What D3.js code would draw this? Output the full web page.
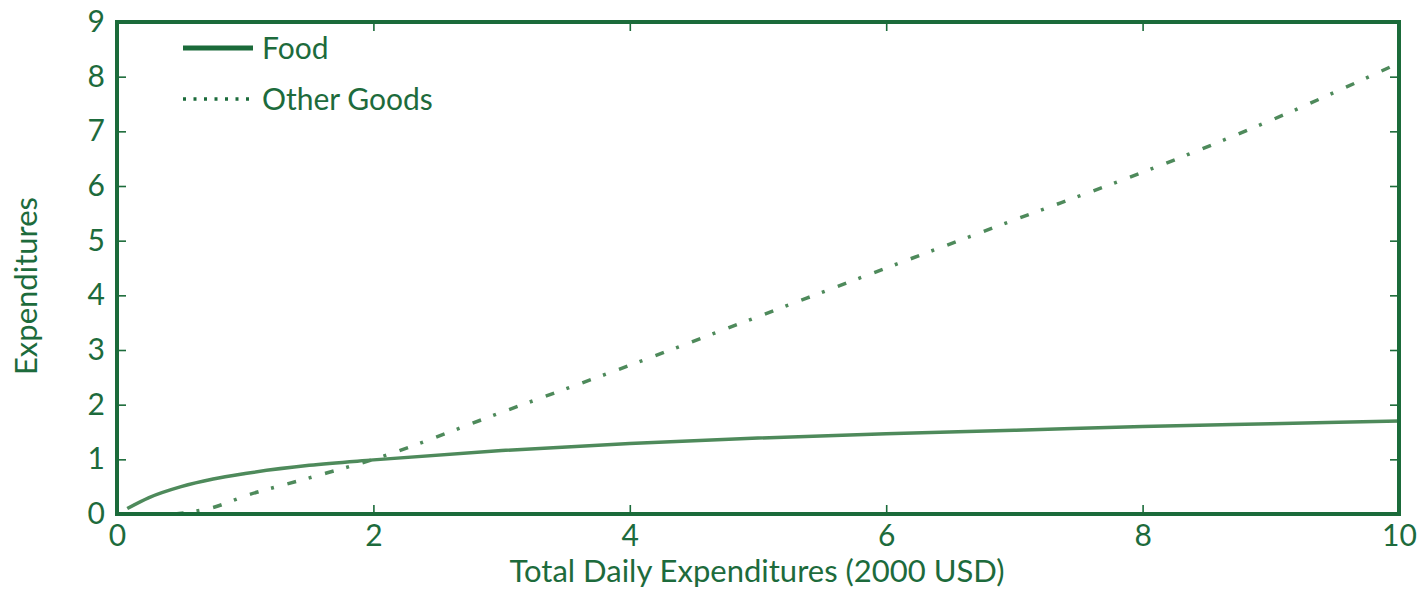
<!DOCTYPE html>
<html>
<head>
<meta charset="utf-8">
<script src="https://cdn.jsdelivr.net/npm/d3@7"></script>
<style>
  body { margin: 0; background: #fff; }
  text { font-family: Lato, "Open Sans", sans-serif; fill: #1d6b3c; }
</style>
</head>
<body>
<div id="chart"></div>
<script>
// data
var foodX = [0.08, 0.25, 0.5, 0.75, 1, 1.5, 2, 3, 4, 5, 6, 7, 8, 9, 10];
var foodY = [0.1, 0.3, 0.5, 0.64, 0.74, 0.89, 0.99, 1.16, 1.29, 1.39, 1.47, 1.53, 1.6, 1.65, 1.7];
var otherX = [0.45, 0.75, 1, 1.5, 2, 3, 4, 5, 6, 7, 8, 9, 10];
var otherY = [0, 0.12, 0.33, 0.66, 1.0, 1.86, 2.72, 3.61, 4.5, 5.38, 6.25, 7.2, 8.25];
var xTicks = [0, 2, 4, 6, 8, 10];
var yTicks = [0, 1, 2, 3, 4, 5, 6, 7, 8, 9];
var legendNames = ["Food", "Other Goods"];

var W = 1422, H = 590;
var margin = {top: 22, right: 23, bottom: 76, left: 117},
    width = W - margin.left - margin.right,
    height = H - margin.top - margin.bottom;

var dark = "#1b6b3a", lineCol = "#4e8a5b";
var fs = "30px";

var svg = d3.select("#chart")
  .append("svg")
    .attr("width", W)
    .attr("height", H)
  .append("g")
    .attr("transform", "translate(" + margin.left + "," + margin.top + ")");

var x = d3.scaleLinear().domain([0, 10]).range([0, width]);
var y = d3.scaleLinear().domain([0, 9]).range([height, 0]);

// axes, ticks pointing inward on all four sides
function styleAxis(g) {
  g.select(".domain").remove();
  g.selectAll(".tick line").attr("stroke", dark).attr("stroke-width", 1.6);
  g.selectAll(".tick text").style("font-size", fs).attr("fill", dark);
}
svg.append("g")
  .attr("transform", "translate(0," + height + ")")
  .call(d3.axisBottom(x).tickValues(xTicks).tickSize(-9).tickPadding(11).tickFormat(d3.format("d")))
  .call(styleAxis);
svg.append("g")
  .call(d3.axisLeft(y).tickValues(yTicks).tickSize(-9).tickPadding(12).tickFormat(d3.format("d")))
  .call(styleAxis);
svg.append("g")
  .call(d3.axisTop(x).tickValues(xTicks).tickSize(-9).tickFormat(""))
  .call(styleAxis);
svg.append("g")
  .attr("transform", "translate(" + width + ",0)")
  .call(d3.axisRight(y).tickValues(yTicks).tickSize(-9).tickFormat(""))
  .call(styleAxis);

// lines
var line = d3.line()
  .x(function(d) { return x(d[0]); })
  .y(function(d) { return y(d[1]); })
  .curve(d3.curveMonotoneX);

svg.append("path")
  .datum(otherX.map(function(v, i) { return [v, otherY[i]]; }))
  .attr("d", line)
  .attr("fill", "none")
  .attr("stroke", lineCol)
  .attr("stroke-width", 3.5)
  .attr("stroke-dasharray", "9,13,3,14");

svg.append("path")
  .datum(foodX.map(function(v, i) { return [v, foodY[i]]; }))
  .attr("d", line)
  .attr("fill", "none")
  .attr("stroke", lineCol)
  .attr("stroke-width", 3.5);

// frame
svg.append("rect")
  .attr("width", width)
  .attr("height", height)
  .attr("fill", "none")
  .attr("stroke", dark)
  .attr("stroke-width", 4);

// legend
var leg = svg.append("g").attr("transform", "translate(66,26)");
leg.selectAll("line")
  .data(legendNames)
  .enter()
  .append("line")
    .attr("x1", 0).attr("x2", 70)
    .attr("y1", function(d, i) { return i * 51; })
    .attr("y2", function(d, i) { return i * 51; })
    .attr("stroke", dark)
    .attr("stroke-width", function(d, i) { return i ? 3.5 : 5; })
    .attr("stroke-dasharray", function(d, i) { return i ? "3,7.5" : null; });
leg.selectAll("text")
  .data(legendNames)
  .enter()
  .append("text")
    .attr("x", 79)
    .attr("y", function(d, i) { return i * 51; })
    .attr("dy", "0.35em")
    .style("font-size", fs)
    .text(function(d) { return d; });

// axis titles
svg.append("text")
  .attr("x", x(5.0) - 1)
  .attr("y", height + 68)
  .attr("text-anchor", "middle")
  .style("font-size", "31px")
  .text("Total Daily Expenditures (2000 USD)");

svg.append("text")
  .attr("transform", "translate(" + (-80) + "," + (y(4.17)) + ") rotate(-90)")
  .attr("text-anchor", "middle")
  .style("font-size", "31px")
  .text("Expenditures");
</script>
</body>
</html>
